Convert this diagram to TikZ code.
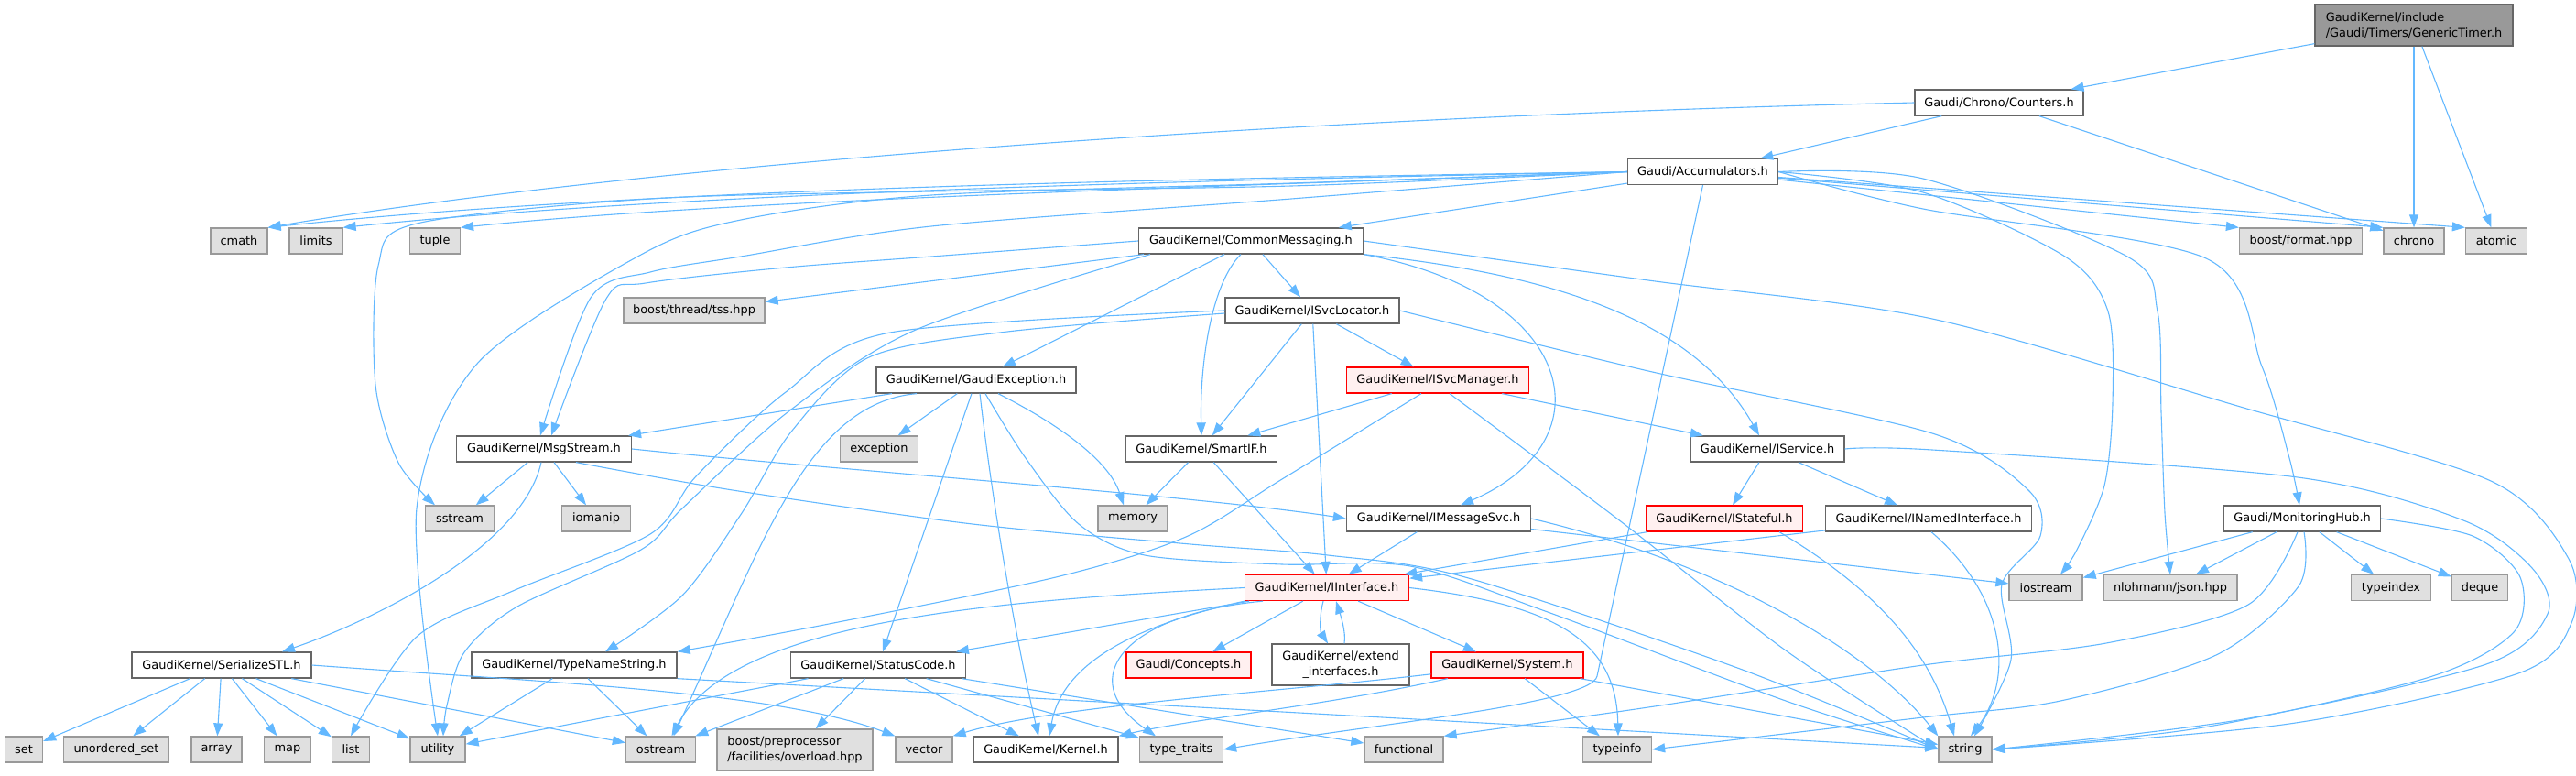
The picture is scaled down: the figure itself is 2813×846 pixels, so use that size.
\documentclass[tikz,border=0pt]{standalone}
\usepackage{fontspec}
\setmainfont{DejaVu Sans}
\usetikzlibrary{arrows.meta}

\definecolor{edgeblue}{HTML}{63B8FF}
\definecolor{boxgray}{HTML}{E0E0E0}
\definecolor{linegray}{HTML}{999999}
\definecolor{framegray}{HTML}{666666}
\definecolor{truncfill}{HTML}{FFF0F0}

\tikzset{
  hdrbox/.style={draw=framegray, fill=white, line width=1.3pt, minimum height=28pt,
    inner sep=0pt, font=\fontsize{12.9}{16.5}\selectfont},
  sysbox/.style={hdrbox, draw=linegray, fill=boxgray},
  truncbox/.style={hdrbox, draw=red, fill=truncfill},
  rootbox/.style={hdrbox, fill=linegray},
  incl/.style={draw=edgeblue, line width=1.1pt, -{Triangle[length=14pt,width=10pt]}},
}

\begin{document}
\begin{tikzpicture}[x=1pt, y=-1pt]
\useasboundingbox (0,0) rectangle (2813,846);

% headers, one row per rank
\node[rootbox, minimum width=216pt, minimum height=45pt, align=left] (gt) at (2636,27.5) {GaudiKernel/include\\/Gaudi/Timers/GenericTimer.h};
\node[hdrbox, minimum width=184pt] (ct) at (2183,112) {Gaudi/Chrono/Counters.h};
\node[hdrbox, minimum width=164pt] (ac) at (1859.5,187.5) {Gaudi/Accumulators.h};

\node[sysbox, minimum width=62pt] (cmath) at (261,263) {cmath};
\node[sysbox, minimum width=58pt] (limits) at (345,263) {limits};
\node[sysbox, minimum width=55pt] (tuple) at (475,263) {tuple};
\node[hdrbox, minimum width=245pt] (cm) at (1366,263) {GaudiKernel/CommonMessaging.h};
\node[sysbox, minimum width=134pt] (fmt) at (2512.5,263) {boost/format.hpp};
\node[sysbox, minimum width=66pt] (chrono) at (2636,263) {chrono};
\node[sysbox, minimum width=67pt] (atomic) at (2726,263) {atomic};

\node[sysbox, minimum width=154pt] (tss) at (758,339) {boost/thread/tss.hpp};
\node[hdrbox, minimum width=190pt] (svcloc) at (1433,339) {GaudiKernel/ISvcLocator.h};

\node[hdrbox, minimum width=218pt] (gexc) at (1066,415) {GaudiKernel/GaudiException.h};
\node[truncbox, minimum width=199pt] (svcmgr) at (1570,415) {GaudiKernel/ISvcManager.h};

\node[hdrbox, minimum width=191pt] (msgstream) at (594,490) {GaudiKernel/MsgStream.h};
\node[sysbox, minimum width=85pt] (exception) at (960,490) {exception};
\node[hdrbox, minimum width=165pt] (smartif) at (1312,490) {GaudiKernel/SmartIF.h};
\node[hdrbox, minimum width=168pt] (iservice) at (1930,490) {GaudiKernel/IService.h};

\node[sysbox, minimum width=75pt] (sstream) at (502,566) {sstream};
\node[sysbox, minimum width=75pt] (iomanip) at (651,566) {iomanip};
\node[sysbox, minimum width=76pt] (memory) at (1237,566) {memory};
\node[hdrbox, minimum width=201pt] (msgsvc) at (1571,566) {GaudiKernel/IMessageSvc.h};
\node[truncbox, minimum width=171pt] (istateful) at (1883,566) {GaudiKernel/IStateful.h};
\node[hdrbox, minimum width=225pt] (inamed) at (2106,566) {GaudiKernel/INamedInterface.h};
\node[hdrbox, minimum width=171pt] (monhub) at (2514,566) {Gaudi/MonitoringHub.h};

\node[truncbox, minimum width=179pt] (iinterface) at (1449,641.5) {GaudiKernel/IInterface.h};
\node[sysbox, minimum width=80pt] (iostream) at (2234,641.5) {iostream};
\node[sysbox, minimum width=146pt] (json) at (2370,641.5) {nlohmann/json.hpp};
\node[sysbox, minimum width=87pt] (typeindex) at (2611,641.5) {typeindex};
\node[sysbox, minimum width=61pt] (deque) at (2708,641.5) {deque};

\node[hdrbox, minimum width=196pt] (serial) at (242,726) {GaudiKernel/SerializeSTL.h};
\node[hdrbox, minimum width=224pt] (tns) at (627,726) {GaudiKernel/TypeNameString.h};
\node[hdrbox, minimum width=191pt] (statuscode) at (959,726) {GaudiKernel/StatusCode.h};
\node[truncbox, minimum width=136pt] (concepts) at (1298,726) {Gaudi/Concepts.h};
\node[hdrbox, minimum width=150pt, minimum height=45pt, align=center] (extend) at (1464,725.5) {GaudiKernel/extend\\\_interfaces.h};
\node[truncbox, minimum width=166pt] (system) at (1646,726) {GaudiKernel/System.h};

\node[sysbox, minimum width=41pt] (set) at (26,818) {set};
\node[sysbox, minimum width=115pt] (unorderedset) at (127,818) {unordered\_set};
\node[sysbox, minimum width=55pt] (array) at (236.5,818) {array};
\node[sysbox, minimum width=51pt] (map) at (314,818) {map};
\node[sysbox, minimum width=41pt] (list) at (383,818) {list};
\node[sysbox, minimum width=60pt] (utility) at (478,818) {utility};
\node[sysbox, minimum width=76pt] (ostream) at (721.5,818) {ostream};
\node[sysbox, minimum width=170pt, minimum height=45pt, align=left] (pp) at (868,818.5) {boost/preprocessor\\/facilities/overload.hpp};
\node[sysbox, minimum width=62pt] (vector) at (1009,818) {vector};
\node[hdrbox, minimum width=158pt] (kernel) at (1142,818) {GaudiKernel/Kernel.h};
\node[sysbox, minimum width=91pt] (typetraits) at (1290,818) {type\_traits};
\node[sysbox, minimum width=86pt] (functional) at (1533,818) {functional};
\node[sysbox, minimum width=75pt] (typeinfo) at (1766,818) {typeinfo};
\node[sysbox, minimum width=58pt] (string) at (2146,818) {string};

% straight includes
\foreach \src/\dst in {gt/ct, gt/chrono, gt/atomic, ct/ac, ct/chrono, ac/cm,
    cm/tss, cm/gexc, cm/svcloc, svcloc/svcmgr, svcloc/smartif, svcloc/iinterface,
    svcmgr/smartif, svcmgr/iservice, gexc/msgstream, gexc/exception, gexc/statuscode,
    msgstream/sstream, msgstream/iomanip, smartif/memory, smartif/iinterface,
    iservice/istateful, iservice/inamed, msgsvc/iinterface, msgsvc/iostream,
    istateful/iinterface, inamed/iinterface, monhub/iostream, monhub/json,
    monhub/typeindex, monhub/deque, iinterface/concepts, iinterface/system,
    iinterface/statuscode, system/typeinfo, system/string, tns/utility, tns/ostream,
    statuscode/utility, statuscode/ostream, statuscode/pp, statuscode/kernel,
    statuscode/typetraits, statuscode/functional, serial/set, serial/unorderedset,
    serial/array, serial/map, serial/list, serial/utility, serial/ostream}
  \draw[incl] (\src) -- (\dst);

\draw[incl] (ac) -- (fmt.north west);
\draw[incl] (ac) -- (chrono.north west);
\draw[incl] (ac) -- (atomic.north west);
\draw[incl] (tns.south east) -- (string);

% long ones to the left
\draw[incl] (ct.west) .. controls (1400,128) and (700,180) .. (cmath.north east);
\draw[incl] (ac.west) .. controls (1300,195) and (700,205) .. (cmath.north east);
\draw[incl] (ac.west) .. controls (1300,197) and (750,210) .. (limits.north east);
\draw[incl] (ac.west) .. controls (1300,205) and (800,218) .. (tuple.north east);
\draw[incl] plot[smooth] coordinates {(ac.west) (1410,203) (1017,209) (710,217) (455,244) (413,290) (410,420) (435,505) ([xshift=-27pt]sstream.north)};
\draw[incl] plot[smooth] coordinates {(ac.west) (1410,200) (1017,213) (809,240) (700,278) (521,397) (455,555) (utility.north)};
\draw[incl] plot[smooth] coordinates {(ac.west) (1410,217) (1017,247) (809,280) (710,297) (645,325) ([xshift=-4pt]msgstream.north)};
\draw[incl] plot[smooth] coordinates {(cm.west) (1017,280) (858,292) (705,309) (662,326) ([xshift=8pt]msgstream.north)};
\draw[incl] plot[smooth] coordinates {([xshift=-110pt]cm.south) (1000,360) (860,450) (745,555) (700,600) (565,662) (507,712) (488,770) ([xshift=6pt]utility.north)};
\draw[incl] plot[smooth] coordinates {(svcloc.west) (972,363) (858,428) (760,520) (710,583) (560,645) (455,695) (list.north)};
\draw[incl] plot[smooth] coordinates {([yshift=-3pt]svcloc.west) (1100,362) (949,390) (865,470) (810,560) (745,650) ([xshift=34pt]tns.north)};
\draw[incl] plot[smooth] coordinates {([xshift=-18pt]svcmgr.south) (1400,523) (1295,586) (1153,630) (900,682) (tns.north east)};

% middle
\draw[incl] ([xshift=-11pt]cm.south) .. controls (1322,310) and (1310,400) .. (smartif.north);
\draw[incl] (cm.south east) .. controls (1720,320) and (1760,480) .. ([xshift=24pt]msgsvc.north);
\draw[incl] (cm.south east) .. controls (1700,300) and (1850,350) .. ([xshift=-9pt]iservice.north);
\draw[incl] ([xshift=24pt]gexc.south) .. controls (1150,460) and (1210,500) .. ([xshift=-10pt]memory.north);
\draw[incl] ([xshift=4pt]gexc.south) .. controls (1085,560) and (1110,700) .. ([xshift=-8pt]kernel.north);
\draw[incl] ([xshift=-65pt]gexc.south) .. controls (880,440) and (830,600) .. ([xshift=14pt]ostream.north);
\draw[incl] (msgstream.east) .. controls (900,512) and (1300,540) .. (msgsvc.west);
\draw[incl] ([xshift=-3pt]msgstream.south) .. controls (570,600) and (400,680) .. ([xshift=66pt]serial.north);
\draw[incl] (serial.east) .. controls (600,745) and (850,755) .. (vector.north west);
\draw[incl] (ac.south) -- (1744,738) .. controls (1738,768) and (1500,790) .. (typetraits.east);

\draw[incl] (iinterface.west) .. controls (1100,655) and (800,675) .. ([xshift=12pt]ostream.north);
\draw[incl] (iinterface.south west) .. controls (1250,680) and (1160,720) .. ([xshift=4pt]kernel.north);
\draw[incl] ([xshift=-70pt]iinterface.south) .. controls (1230,670) and (1170,740) .. ([xshift=-28pt]typetraits.north);
\draw[incl] (iinterface.east) .. controls (1700,660) and (1765,700) .. ([xshift=1pt]typeinfo.north);
\draw[incl] ([xshift=-4pt]iinterface.south) .. controls (1440,675) and (1442,690) .. ([xshift=-14pt]extend.north);
\draw[incl] ([xshift=4pt]extend.north) .. controls (1470,690) and (1464,672) .. ([xshift=10pt]iinterface.south);
\draw[incl] (system) .. controls (1400,755) and (1150,770) .. (vector.north east);
\draw[incl] (system) .. controls (1450,770) and (1300,785) .. (kernel.north east);

% everything that ends in string
\draw[incl] plot[smooth] coordinates {([xshift=10pt]gexc.south) (1120,500) (1178,572) (1250,606) (1400,616) (1540,618) (1690,668) (1950,765) (string.west)};
\draw[incl] plot[smooth] coordinates {([xshift=35pt]msgstream.south) (800,535) (1062,572) (1300,594) (1450,606) (1600,630) (1900,730) (string.west)};
\draw[incl] plot[smooth] coordinates {([xshift=13pt]svcmgr.south) (1771,570) (1950,710) (string.west)};
\draw[incl] plot[smooth] coordinates {(svcloc.east) (1800,405) (2110,473) (2215,535) (2228,585) (2186,638) (2196,720) ([xshift=10pt]string.north)};
\draw[incl] (msgsvc.east) .. controls (1900,620) and (2050,720) .. (string.north west);
\draw[incl] ([xshift=60pt]istateful.south) .. controls (2060,650) and (2110,720) .. ([xshift=-12pt]string.north);
\draw[incl] ([xshift=3pt]inamed.south) .. controls (2190,650) and (2200,740) .. ([xshift=6pt]string.north);
\draw[incl] plot[smooth] coordinates {(cm.east) (1800,306) (2110,348) (2450,445) (2720,525) (2805,610) (2808,680) (2750,735) (2500,790) (string.east)};
\draw[incl] plot[smooth] coordinates {(iservice.east) (2110,491) (2509,521) (2690,568) (2765,620) (2782,670) (2715,725) (2450,785) (string.east)};
\draw[incl] plot[smooth] coordinates {(monhub.east) (2700,585) (2752,630) (2745,690) (2650,740) (2400,795) (string.east)};

% right hand side
\draw[incl] plot[smooth] coordinates {(ac.east) (2100,210) (2255,280) (2302,340) (2307,440) (2298,530) (2268,600) ([xshift=16pt]iostream.north)};
\draw[incl] plot[smooth] coordinates {(ac.east) (2100,195) (2323,280) (2356,340) (2360,450) (2364,560) (json.north)};
\draw[incl] plot[smooth] coordinates {(ac.east) (2100,228) (2409,282) (2470,400) (2500,500) ([xshift=-3pt]monhub.north)};
\draw[incl] plot[smooth] coordinates {([xshift=-5pt]monhub.south) (2455,660) (2300,702) (2100,726) (1800,772) (functional.north east)};
\draw[incl] plot[smooth] coordinates {([xshift=2pt]monhub.south) (2510,640) (2420,715) (2250,765) (2100,783) (typeinfo.east)};
\end{tikzpicture}
\end{document}
